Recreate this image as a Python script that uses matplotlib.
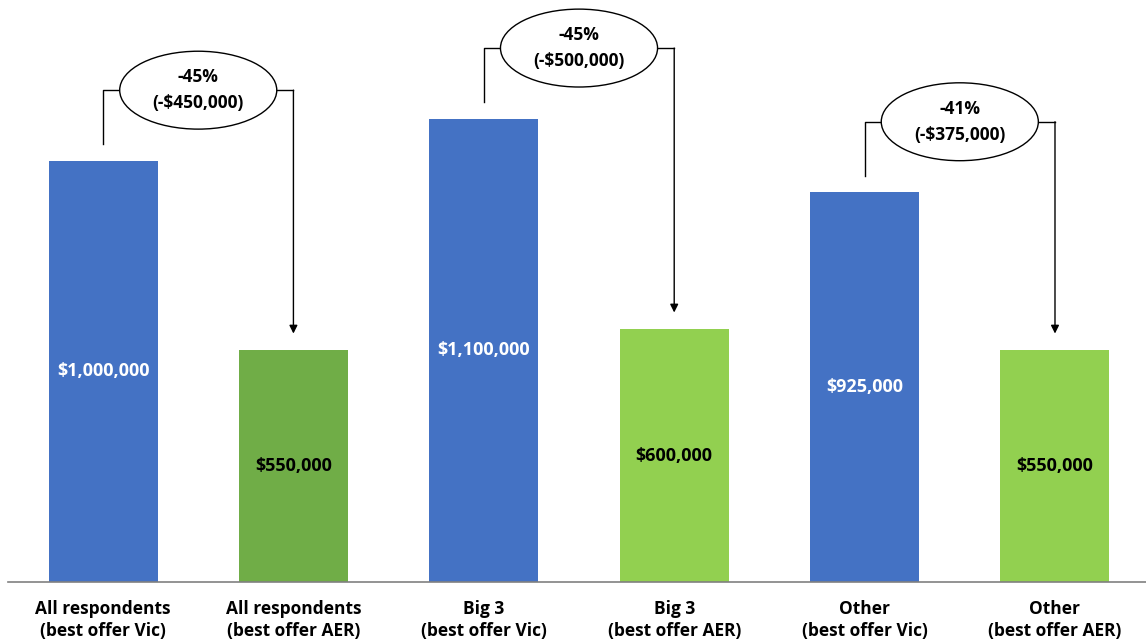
import matplotlib.pyplot as plt
from matplotlib.patches import Ellipse

plt.rcParams['font.family'] = ['Open Sans', 'DejaVu Sans']

categories = ["All respondents\n(best offer Vic)", "All respondents\n(best offer AER)",
              "Big 3\n(best offer Vic)", "Big 3\n(best offer AER)",
              "Other\n(best offer Vic)", "Other\n(best offer AER)"]
values = [1000000, 550000, 1100000, 600000, 925000, 550000]
bar_colors = ["#4472C4", "#70AD47", "#4472C4", "#92D050", "#4472C4", "#92D050"]
label_colors = ["white", "black", "white", "black", "white", "black"]

# pairs of (from bar, to bar) with the change text
changes = [(0, 1, "-45%\n(-$450,000)"),
           (2, 3, "-45%\n(-$500,000)"),
           (4, 5, "-41%\n(-$375,000)")]

fig = plt.figure(figsize=(11.46, 6.43), dpi=100)
ax = fig.add_axes([0.007, 0.0949, 0.993, 0.905])

x = range(len(values))
ax.bar(x, values, width=0.5725, color=bar_colors)
for i, v in enumerate(values):
    ax.text(i, v / 2, f"${v:,.0f}", ha="center", va="center",
            color=label_colors[i], fontsize=13, fontweight="bold")

gap = 40000      # space between bar top and connector
rise = 168000    # ellipse center above the left bar
for a, b, txt in changes:
    ya = values[a] + gap
    yc = values[a] + rise
    yb = values[b] + gap
    xc = (a + b) / 2
    ew, eh = 0.825, 185000
    ax.plot([a, a, xc - ew / 2], [ya, yc, yc], color="black", lw=1)
    ax.plot([xc + ew / 2, b], [yc, yc], color="black", lw=1)
    ax.annotate("", xy=(b, yb), xytext=(b, yc),
                arrowprops=dict(arrowstyle="-|>", color="black", lw=1,
                                mutation_scale=12, shrinkA=0, shrinkB=0))
    ax.add_patch(Ellipse((xc, yc), ew, eh, facecolor="white",
                         edgecolor="black", lw=1, zorder=3))
    ax.text(xc, yc, txt, ha="center", va="center", fontsize=12.5,
            fontweight="bold", linespacing=1.6, zorder=4)

ax.set_xlim(-0.499, 5.478)
ax.set_ylim(0, 1382000)
ax.set_xticks(list(x))
ax.set_xticklabels(categories, fontsize=12.5, fontweight="bold", linespacing=1.25)
ax.tick_params(axis="x", length=0, pad=13)
ax.set_yticks([])
for s in ["top", "right", "left"]:
    ax.spines[s].set_visible(False)
ax.spines["bottom"].set_color("#808080")
ax.spines["bottom"].set_linewidth(1.2)

fig.savefig("out.png", dpi=100)
